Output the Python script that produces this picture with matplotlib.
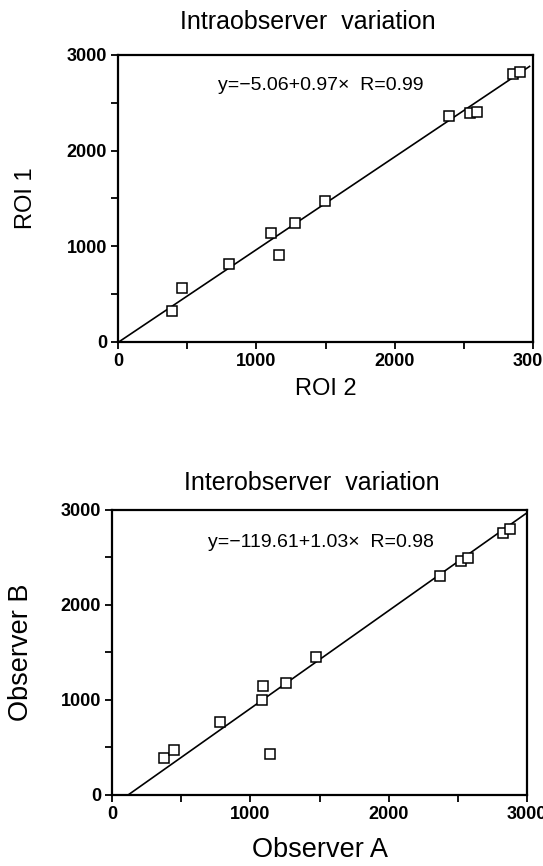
import numpy as np
import matplotlib.pyplot as plt
from matplotlib.ticker import MultipleLocator

# Intraobserver (ROI 2 vs ROI 1)
roi2 = [390, 463, 802, 1104, 1166, 1277, 1499, 2395, 2542, 2595, 2855, 2906]
roi1 = [320, 565, 820, 1141, 907, 1245, 1472, 2362, 2390, 2407, 2801, 2822]
intra_fit = (-5.06, 0.97)
intra_xrange = [0, 2975]

# Interobserver (Observer A vs Observer B)
obs_a = [373, 446, 783, 1084, 1089, 1140, 1260, 1475, 2369, 2523, 2573, 2827, 2877]
obs_b = [386, 477, 772, 1000, 1147, 432, 1182, 1456, 2309, 2467, 2498, 2754, 2796]
inter_fit = (-119.61, 1.03)
inter_xrange = [116, 3000]

ticks = [0, 1000, 2000, 3000]

label_font = ['Liberation Sans', 'DejaVu Sans']
tick_font = ['Liberation Sans', 'DejaVu Sans']

fig = plt.figure(figsize=(5.43, 8.66), dpi=100)
ax1 = fig.add_axes([0.2173, 0.6051, 0.7643, 0.3314])
ax2 = fig.add_axes([0.2063, 0.0820, 0.7642, 0.3291])


def draw(ax, x, y, fit, xr, eq, eq_pos, xlabel, ylabel, lsize, xpad, ypad):
    a, b = fit
    xs = np.array(xr, dtype=float)
    ax.plot(xs, a + b * xs, color='black', lw=1.2, zorder=2)
    ax.plot(x, y, ls='none', marker='s', ms=6.5, mfc='white', mec='black',
            mew=1.1, zorder=3)
    ax.set_xlim(0, 3000)
    ax.set_ylim(0, 3000)
    ax.set_xticks(ticks)
    ax.set_yticks(ticks)
    ax.xaxis.set_minor_locator(MultipleLocator(500))
    ax.yaxis.set_minor_locator(MultipleLocator(500))
    ax.tick_params(which='both', direction='out', length=5, width=1.3,
                   pad=3)
    for lab in ax.get_xticklabels() + ax.get_yticklabels():
        lab.set_family(tick_font)
        lab.set_fontweight('bold')
        lab.set_fontsize(13)
    for s in ax.spines.values():
        s.set_linewidth(1.6)
    ax.text(eq_pos[0], eq_pos[1], eq, ha='center', va='center',
            family=tick_font, fontsize=14)
    ax.set_xlabel(xlabel, family=label_font, fontsize=lsize, labelpad=xpad)
    ax.set_ylabel(ylabel, family=label_font, fontsize=lsize, labelpad=ypad)


draw(ax1, roi2, roi1, intra_fit, intra_xrange,
     'y=\u22125.06+0.97\u00d7  R=0.99', (1468, 2686), 'ROI 2', 'ROI 1',
     17, 6, 21)
draw(ax2, obs_a, obs_b, inter_fit, inter_xrange,
     'y=\u2212119.61+1.03\u00d7  R=0.98', (1511, 2663), 'Observer A',
     'Observer B', 19.5, 10, 19)

fig.text(308 / 543, 1 - 22 / 866, 'Intraobserver  variation', ha='center',
         va='center', family=label_font, fontsize=18)
fig.text(312 / 543, 1 - 483 / 866, 'Interobserver  variation', ha='center',
         va='center', family=label_font, fontsize=18)

fig.savefig('out.png', dpi=100)
